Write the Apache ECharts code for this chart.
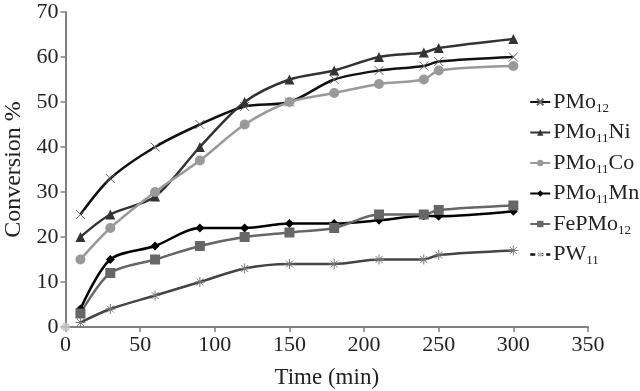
<!DOCTYPE html>
<html>
<head>
<meta charset="utf-8">
<script src="https://cdn.jsdelivr.net/npm/echarts@6/dist/echarts.min.js"></script>
<style>
  html, body { margin: 0; padding: 0; background: #fff; }
  #chart { width: 640px; height: 391px; }
</style>
</head>
<body>
<div id="chart"></div>
<script>
// time points (min)
const times = [10, 30, 60, 90, 120, 150, 180, 210, 240, 250, 300];
const seriesNames = ["PMo12", "PMo11Ni", "PMo11Co", "PMo11Mn", "FePMo12", "PW11"];

const pmo12 = [25, 33, 40, 45, 49, 50, 55, 57, 58, 59, 60];
const pmo11Ni = [20, 25, 29, 40, 50, 55, 57, 60, 61, 62, 64];
const pmo11Co = [15, 22, 30, 37, 45, 50, 52, 54, 55, 57, 58];
const pmo11Mn = [4, 15, 18, 22, 22, 23, 23, 23.7, 24.7, 24.6, 25.7];
const fePMo12 = [3, 12, 15, 18, 20, 21, 22, 25, 25, 26, 27];
const pw11 = [1, 4, 7, 10, 13, 14, 14, 15, 15, 16, 17];
const origin = [[0, 0]];

const xTicks = { min: 0, max: 350, interval: 50 };
const yTicks = { min: 0, max: 70, interval: 10 };

const font = "'Liberation Serif', 'DejaVu Serif', serif";
const crossPath = "path://M0,0L10,10M10,0L0,10";
const starPath = "path://M0,5L10,5M5,0L5,10M1.5,1.5L8.5,8.5M8.5,1.5L1.5,8.5";

function pairs(vals) {
    return times.map((t, i) => [t, vals[i]]);
}

function makeLine(name, vals, color, symbol, size, extra) {
    return Object.assign({
        name: name,
        type: "line",
        data: pairs(vals),
        smooth: 0.3,
        symbol: symbol,
        symbolSize: size,
        lineStyle: { color: color, width: 2.5 },
        itemStyle: { color: color },
        z: 3
    }, extra || {});
}

// legend entries, the last one drawn dashed like the original
const legendItems = seriesNames.map(n => n === "PW11"
    ? { name: n, itemStyle: { color: "#ccc", borderColor: "#ccc", borderWidth: 1 }, lineStyle: { type: [5, 3], color: "#111", width: 2.5 } }
    : { name: n });

const chart = echarts.init(document.getElementById("chart"));
chart.setOption({
    backgroundColor: "#fff",
    animation: false,
    grid: { left: 65.5, right: 52, top: 12, bottom: 64, outerBoundsMode: "none", containLabel: false },
    legend: {
        orient: "vertical",
        left: 524,
        top: 86,
        itemGap: 6.5,
        itemWidth: 20,
        itemHeight: 8,
        data: legendItems,
        formatter: name => "{a|" + name.replace(/(\d+)/g, "}{s|$1}{a|") + "}",
        textStyle: {
            color: "#222",
            padding: [0, 0, 0, -2],
            rich: {
                a: { fontFamily: font, fontSize: 22, lineHeight: 26, color: "#222" },
                s: { fontFamily: font, fontSize: 13, lineHeight: 13, verticalAlign: "bottom", color: "#222" }
            }
        }
    },
    xAxis: {
        type: "value",
        min: xTicks.min, max: xTicks.max, interval: xTicks.interval,
        name: "Time (min)",
        nameLocation: "middle",
        nameGap: 39,
        nameTextStyle: { fontFamily: font, fontSize: 23, color: "#222" },
        axisLine: { lineStyle: { color: "#808080", width: 2 } },
        axisTick: { length: 5, lineStyle: { color: "#808080", width: 1.5 } },
        axisLabel: { fontFamily: font, fontSize: 22, color: "#222", margin: 7 },
        splitLine: { show: false }
    },
    yAxis: {
        type: "value",
        min: yTicks.min, max: yTicks.max, interval: yTicks.interval,
        name: "Conversion %",
        nameLocation: "middle",
        nameGap: 34,
        nameTextStyle: { fontFamily: font, fontSize: 24, color: "#222" },
        axisLine: { show: true, lineStyle: { color: "#808080", width: 2 } },
        axisTick: { show: true, length: 5, lineStyle: { color: "#808080", width: 1.5 } },
        axisLabel: { fontFamily: font, fontSize: 22, color: "#222", margin: 7 },
        splitLine: { show: false }
    },
    series: [
        makeLine("PMo12", pmo12, "#111", crossPath, 9, {
            itemStyle: { color: "none", borderColor: "#666", borderWidth: 1 }
        }),
        makeLine("PMo11Ni", pmo11Ni, "#333", "triangle", 10),
        makeLine("PMo11Co", pmo11Co, "#999", "circle", 10),
        makeLine("PMo11Mn", pmo11Mn, "#000", "diamond", 9),
        makeLine("FePMo12", fePMo12, "#666", "rect", 10),
        makeLine("PW11", pw11, "#444", starPath, 10, {
            itemStyle: { color: "none", borderColor: "#777", borderWidth: 1 }
        }),
        {
            name: "start",
            type: "scatter",
            data: origin,
            symbol: "circle",
            symbolSize: 9,
            itemStyle: { color: "#c8c8c8" },
            z: 4
        }
    ]
});
</script>
</body>
</html>
